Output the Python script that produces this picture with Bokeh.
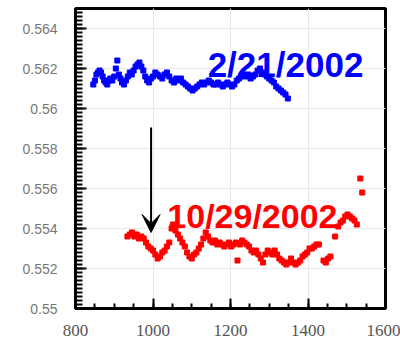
from bokeh.plotting import figure
from bokeh.models import FixedTicker, Arrow, VeeHead, Range1d
from bokeh.core.properties import value
from bokeh.embed import file_html
from bokeh.resources import INLINE

# Series measured on 2/21/2002
blue_x = [846, 850, 854, 858, 862, 866, 870, 874, 878, 882, 886, 890, 895, 900,
          904, 908, 912, 916, 920, 925, 930, 935, 940, 945, 950, 955, 960, 965,
          970, 975, 980, 985, 990, 995, 1000, 1006, 1012, 1018, 1024, 1030, 1036,
          1042, 1048, 1054, 1060, 1066, 1072, 1078, 1084, 1090, 1096, 1102, 1108,
          1114, 1120, 1126, 1132, 1138, 1144, 1150, 1156, 1162, 1168, 1174, 1180,
          1186, 1192, 1198, 1204, 1210, 1216, 1222, 1228, 1234, 1240, 1246, 1252,
          1258, 1264, 1270, 1276, 1282, 1288, 1294, 1300, 1306, 1312, 1318, 1324,
          1330, 1336, 1342, 1348]
blue_y = [0.5612, 0.5614, 0.5617, 0.5618, 0.5619, 0.5618, 0.5616, 0.5614, 0.5613,
          0.5612, 0.5614, 0.5615, 0.5614, 0.5616, 0.5620, 0.5624, 0.5617, 0.5615,
          0.5613, 0.5612, 0.5614, 0.5616, 0.5618, 0.5617, 0.5619, 0.5621, 0.5622,
          0.5623, 0.5621, 0.5619, 0.5616, 0.5614, 0.5613, 0.5615, 0.5616, 0.5618,
          0.5617, 0.5616, 0.5615, 0.5617, 0.5618, 0.5616, 0.5614, 0.5613, 0.5615,
          0.5614, 0.5615, 0.5613, 0.5612, 0.5611, 0.5610, 0.5609, 0.5610, 0.5611,
          0.5612, 0.5613, 0.5612, 0.5613, 0.5614, 0.5613, 0.5612, 0.5612, 0.5613,
          0.5612, 0.5611, 0.5612, 0.5613, 0.5612, 0.5611, 0.5612, 0.5614, 0.5615,
          0.5616, 0.5617, 0.5616, 0.5617, 0.5615, 0.5616, 0.5617, 0.5619, 0.5620,
          0.5618, 0.5617, 0.5616, 0.5615, 0.5614, 0.5613, 0.5611, 0.5610, 0.5609,
          0.5608, 0.5607, 0.5605]

# Series measured on 10/29/2002
red_x = [934, 940, 946, 952, 958, 964, 970, 976, 982, 988, 994, 1000, 1006, 1012,
         1018, 1024, 1030, 1036, 1042, 1048, 1052, 1058, 1064, 1070, 1076, 1082,
         1088, 1094, 1100, 1106, 1112, 1118, 1124, 1130, 1136, 1142, 1148, 1154,
         1160, 1166, 1172, 1178, 1184, 1190, 1196, 1202, 1208, 1214, 1218, 1224,
         1230, 1236, 1242, 1248, 1254, 1260, 1266, 1272, 1278, 1284, 1290, 1296,
         1302, 1308, 1314, 1320, 1326, 1332, 1338, 1344, 1350, 1356, 1362, 1368,
         1374, 1380, 1386, 1392, 1398, 1404, 1410, 1416, 1422, 1428, 1440, 1446,
         1452, 1458, 1470, 1478, 1484, 1490, 1496, 1502, 1508, 1514, 1520, 1526,
         1535, 1540]
red_y = [0.5536, 0.5537, 0.5538, 0.5536, 0.5537, 0.5535, 0.5536, 0.5535, 0.5533,
         0.5531, 0.5530, 0.5529, 0.5527, 0.5525, 0.5526, 0.5528, 0.5529, 0.5531,
         0.5533, 0.5540, 0.5542, 0.5539, 0.5537, 0.5535, 0.5533, 0.5531, 0.5528,
         0.5526, 0.5525, 0.5527, 0.5528, 0.5530, 0.5532, 0.5535, 0.5538, 0.5536,
         0.5534, 0.5533, 0.5534, 0.5532, 0.5533, 0.5532, 0.5531, 0.5532, 0.5533,
         0.5531, 0.5532, 0.5533, 0.5524, 0.5532, 0.5534, 0.5533, 0.5532, 0.5531,
         0.5529, 0.5528, 0.5529, 0.5527, 0.5525, 0.5523, 0.5527, 0.5529, 0.5528,
         0.5527, 0.5529, 0.5527, 0.5525, 0.5524, 0.5523, 0.5522, 0.5523, 0.5525,
         0.5523, 0.5522, 0.5523, 0.5524, 0.5526, 0.5527, 0.5528, 0.5530, 0.5530,
         0.5531, 0.5532, 0.5532, 0.5524, 0.5523, 0.5525, 0.5526, 0.5536, 0.5541,
         0.5543, 0.5544, 0.5546, 0.5547, 0.5546, 0.5545, 0.5544, 0.5542, 0.5565,
         0.5558]

x_ticks = [800, 1000, 1200, 1400, 1600]
x_tick_labels = ["800", "1000", "1200", "1400", "1600"]
y_ticks = [0.55, 0.552, 0.554, 0.556, 0.558, 0.56, 0.562, 0.564]
y_tick_labels = ["0.55", "0.552", "0.554", "0.556", "0.558", "0.56", "0.562", "0.564"]

p = figure(width=400, height=354, output_backend="svg", toolbar_location=None,
           x_range=Range1d(800, 1600), y_range=Range1d(0.55, 0.565),
           min_border_left=75, min_border_right=15, min_border_top=8,
           min_border_bottom=46)
p.background_fill_color = "white"
p.border_fill_color = "white"
p.outline_line_color = "black"
p.outline_line_width = 3

# grid
p.xgrid.grid_line_color = "#e8e8e8"
p.ygrid.grid_line_color = "#e8e8e8"

# axes
p.xaxis.ticker = FixedTicker(ticks=x_ticks,
                             minor_ticks=list(range(800, 1601, 50)))
p.yaxis.ticker = FixedTicker(ticks=y_ticks,
                             minor_ticks=[round(0.55 + i * 0.0002, 4) for i in range(76)])
p.xaxis.major_label_overrides = dict(zip(x_ticks, x_tick_labels))
p.yaxis.major_label_overrides = dict(zip(y_ticks, y_tick_labels))
for ax in (p.xaxis[0], p.yaxis[0]):
    ax.axis_line_color = "black"
    ax.axis_line_width = 3
    ax.major_tick_line_color = "black"
    ax.minor_tick_line_color = "black"
    ax.major_tick_line_width = 2
    ax.minor_tick_line_width = 2
    ax.major_tick_out = 0
    ax.minor_tick_out = 0
p.yaxis.major_tick_in = 11
p.yaxis.minor_tick_in = 7
p.xaxis.major_tick_in = 10
p.xaxis.minor_tick_in = 5
p.yaxis.major_label_text_font = "Liberation Sans"
p.yaxis.major_label_text_font_size = "14px"
p.yaxis.major_label_text_color = "#777777"
p.yaxis.major_label_standoff = 18
p.xaxis.major_label_text_font = "Liberation Sans Narrow"
p.xaxis.major_label_text_font_size = "17px"
p.xaxis.major_label_text_color = "#555555"
p.xaxis.major_label_standoff = 16

# data
p.scatter(blue_x, blue_y, marker="square", size=5, color="#0000ff")
p.scatter(red_x, red_y, marker="square", size=5, color="#ff0000")

# date labels
p.text(x=[1141], y=[0.5622], text=["2/21/2002"], text_color="#0000ff",
       text_font=value("Liberation Sans"), text_font_style="bold",
       text_font_size="35px", text_baseline="alphabetic")
p.text(x=[1037], y=[0.55465], text=["10/29/2002"], text_color="#ff0000",
       text_font=value("Liberation Sans"), text_font_style="bold",
       text_font_size="34px", text_baseline="alphabetic")

# shift arrow
p.add_layout(Arrow(x_start=995, y_start=0.55905, x_end=995, y_end=0.5538,
                   line_color="black", line_width=2,
                   end=VeeHead(size=18, fill_color="black", line_color="black")))

open("out.html", "w").write(file_html(p, INLINE))
